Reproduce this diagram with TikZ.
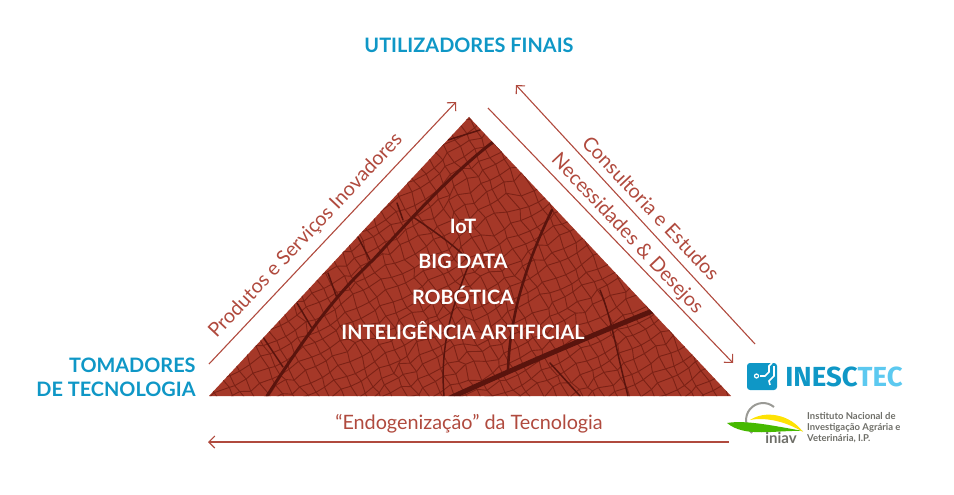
\documentclass[tikz,border=0pt]{standalone}
\usepackage{xcolor}
\usepackage{fontspec}
\setmainfont{Lato}
\newfontfamily\logofont{Fira Sans}
\usetikzlibrary{positioning,calc,arrows.meta}
\definecolor{leafRed}{HTML}{A53828}
\definecolor{leafCell}{HTML}{7C2216}
\definecolor{leafVein}{HTML}{5A140D}
\definecolor{lineRed}{HTML}{B04A3E}
\definecolor{headBlue}{HTML}{0F97C6}
\definecolor{tecBlue}{HTML}{5CC9F0}
\definecolor{iniavGrey}{HTML}{6E6E68}
\tikzset{
  flowArrow/.style={
    -{Straight Barb[length=6pt,width=12pt]},
    draw=lineRed,
    line width=1.1pt
  },
  flowLabel/.style={
    text=lineRed,
    font=\fontsize{19.8}{24}\selectfont
  },
  headLabel/.style={
    text=headBlue,
    font=\fontsize{19.9}{24}\selectfont\bfseries,
    align=right
  },
  techLabel/.style={
    text=white,
    font=\fontsize{19.8}{23}\selectfont\bfseries
  },
  cellLine/.style={
    draw=leafCell,
    line width=0.9pt,
    line join=round
  },
  sideVein/.style={
    draw=leafVein,
    line width=1.5pt,
    line cap=round
  },
  mainVein/.style={
    draw=leafVein,
    line width=3pt,
    line cap=round
  },
  instituteLine/.style={
    text=iniavGrey,
    inner sep=0pt,
    anchor=west,
    font=\fontsize{9.5}{11}\selectfont\bfseries
  },
  declare function={
    jit(\a,\b)=0.55*(mod(\a*\a*7+\b*\b*13+\a*\b*5+\a*3,11)-5);
    jot(\a,\b)=0.5*(mod(\a*\a*5+\b*\b*3+\a*\b*11+\b*7,13)-6);
  }
}

\begin{document}
\begin{tikzpicture}[x=1pt,y=-1pt]
  \useasboundingbox (0,0) rectangle (954,495);

  \coordinate (apex) at (469,117);
  \coordinate (baseLeft) at (209,396);
  \coordinate (baseRight) at (731,396);

  \fill[leafRed] (apex) -- (baseRight) -- (baseLeft) -- cycle;
  \begin{scope}
    \clip (apex) -- (baseRight) -- (baseLeft) -- cycle;
    \begin{scope}[shift={(470,260)},rotate=28]
      \foreach \i in {-27,...,27} {
        \foreach \j in {-21,...,21} {
          \pgfmathsetmacro{\ax}{\i*11+jit(\i,\j)}
          \pgfmathsetmacro{\ay}{\j*11+jot(\i,\j)}
          \pgfmathsetmacro{\bx}{(\i+1)*11+jit(\i+1,\j)}
          \pgfmathsetmacro{\by}{\j*11+jot(\i+1,\j)}
          \pgfmathsetmacro{\cx}{\i*11+jit(\i,\j+1)}
          \pgfmathsetmacro{\cy}{(\j+1)*11+jot(\i,\j+1)}
          \draw[cellLine] (\bx,\by) -- (\ax,\ay) -- (\cx,\cy);
        }
      }
    \end{scope}
    \draw[sideVein] (448,140) -- (480,130);
    \draw[sideVein] (397,203) -- (403,220);
    \draw[sideVein] (358,237) -- (370,260);
    \draw[sideVein] (328,273) -- (337,298);
    \draw[sideVein] (297,303) -- (313,330);
    \draw[sideVein] (263,337) -- (283,367);
    \draw[sideVein] (550,363) -- (580,396);
    \draw[sideVein] (413,217) .. controls (440,235) and (460,250) .. (470,262);
    \draw[sideVein] (470,262) .. controls (450,310) and (440,350) .. (444,396);
    \draw[sideVein] (600,290) .. controls (612,320) and (615,345) .. (628,396);
    \draw[mainVein] (267,396) .. controls (300,345) and (330,300) .. (373,260) .. controls (410,220) and (450,175) .. (493,142);
    \draw[mainVein,line width=2.6pt] (552,210) .. controls (530,255) and (510,310) .. (508,370);
    \draw[mainVein,line width=5pt] (450,398) .. controls (500,375) and (580,340) .. (655,310);
  \end{scope}

  \node[headLabel] (users) at (469,45) {UTILIZADORES FINAIS};
  \node[headLabel] (adopters) at (116,377) {TOMADORES\\DE TECNOLOGIA};

  \node[techLabel] (iot) at (463,226) {IoT};
  \node[techLabel] (bigData) at (463,261) {BIG DATA};
  \node[techLabel] (robotics) at (463,295) {ROBÓTICA};
  \node[techLabel] (ai) at (463,331) {INTELIGÊNCIA ARTIFICIAL};

  \coordinate (productsStart) at (209,364);
  \coordinate (productsEnd) at (456,102);
  \coordinate (consultingStart) at (755,344);
  \coordinate (consultingEnd) at (516,85);
  \coordinate (needsStart) at (488,108);
  \coordinate (needsEnd) at (733,363);
  \coordinate (endoStart) at (729,442);
  \coordinate (endoEnd) at (208,442);

  \draw[flowArrow] (productsStart) -- (productsEnd);
  \draw[flowArrow] (consultingStart) -- (consultingEnd);
  \draw[flowArrow] (needsStart) -- (needsEnd);
  \draw[flowArrow] (endoStart) -- (endoEnd);

  \node[flowLabel,rotate=46.7] (products) at (306,236) {Produtos e Serviços Inovadores};
  \node[flowLabel,rotate=-46.7] (consulting) at (651,208) {Consultoria e Estudos};
  \node[flowLabel,rotate=-46.7] (needs) at (627,234) {Necessidades \& Desejos};
  \node[flowLabel] (endo) at (469,424) {“Endogenização” da Tecnologia};

  \node[fill=headBlue,rounded corners=3pt,minimum width=30pt,minimum height=27pt,inner sep=0pt] (inescIcon) at (762,376.5) {};
  \draw[white,line width=1.6pt] (760,376) -- (765,376) -- (769,372) -- (769,366) -- (772,363);
  \draw[white,line width=1.6pt] (770,385) -- (769,381) -- (774,376) -- (774,366);
  \draw[white,line width=1.2pt] (756.5,376) circle (2pt);
  \node[right=8pt of inescIcon,inner sep=0pt,font=\logofont\fontsize{27.6}{30}\selectfont\bfseries] (inesc) {\textcolor{headBlue}{INESC}\textcolor{tecBlue}{TEC}};

  \draw[iniavGrey!70,line width=2pt] (774,407) arc (-50:-230:17);
  \fill[green!45!olive] (727,423) .. controls (745,420) and (770,425) .. (803,431) .. controls (775,430) and (745,438) .. cycle;
  \fill[yellow!85!orange] (750,420) .. controls (765,410) and (790,414) .. (803,432) .. controls (785,421) and (765,417) .. cycle;
  \node[inner sep=0pt,text=iniavGrey,font=\fontsize{15}{16}\selectfont\bfseries] (iniav) at (781,438) {iniav};
  \node[instituteLine] (instituteA) at (807,416) {Instituto Nacional de};
  \node[instituteLine] (instituteB) at (807,427.5) {Investigação Agrária e};
  \node[instituteLine] (instituteC) at (807,439) {Veterinária, I.P.};
\end{tikzpicture}
\end{document}
